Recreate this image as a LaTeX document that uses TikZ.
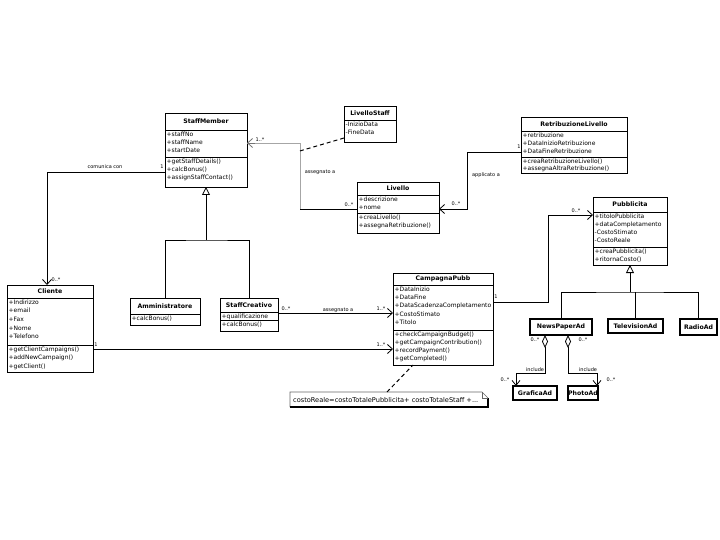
\documentclass[tikz,border=0pt]{standalone}
\usepackage{fontspec}
\setmainfont{DejaVu Sans}
\usetikzlibrary{arrows.meta,calc}
\tikzset{
  clsbox/.style={draw, line width=0.9pt, inner sep=0pt, outer sep=0pt, fill=white},
  boldbox/.style={clsbox, line width=1.2pt},
  clstitle/.style={font=\bfseries\fontsize{6.2}{7}\selectfont, inner sep=0pt},
  members/.style={font=\fontsize{6}{8}\selectfont, align=left, anchor=north west, inner sep=0pt},
  sepline/.style={line width=0.9pt},
  conn/.style={line width=0.9pt},
  greyconn/.style={line width=0.8pt, draw=black!35},
  lbl/.style={font=\fontsize{5}{6}\selectfont, inner sep=0pt},
  barb/.style={-{Straight Barb[length=5pt,width=9pt,line width=0.8pt]}},
  gen/.style={-{Triangle[open,length=8pt,width=8pt,line width=0.8pt]}},
  aggr/.style={{Diamond[open,length=13pt,width=6pt,line width=0.8pt]}-{Straight Barb[length=5pt,width=8pt,line width=0.8pt]}},
  dashconn/.style={line width=1pt, dash pattern=on 4pt off 3pt},
  notebox/.style={inner sep=0pt, outer sep=0pt, minimum width=198pt, minimum height=15pt}
}
% [style] name, x, y, w, h-title, h-attrs, h-methods
\newcommand{\umlbox}[8][clsbox]{%
  \node[#1, minimum width=#5pt, minimum height=#6pt+#7pt+#8pt, anchor=north west] (#2) at (#3,#4) {};
  \coordinate (#2-t) at (#3+#5/2,#4+#6/2);
  \coordinate (#2-a) at (#3+1.5,#4+#6+1.5);
  \coordinate (#2-m) at (#3+1.5,#4+#6+#7+1.5);
  \ifnum#7>0 \draw[sepline] (#3,#4+#6) -- ++(#5,0);\fi
  \ifnum#8>0 \draw[sepline] (#3,#4+#6+#7) -- ++(#5,0);\fi
}
\begin{document}
\begin{tikzpicture}[x=1pt,y=-1pt]
\useasboundingbox (0,0) rectangle (720,540);

% ---------- classes ----------
\umlbox{sm}{165}{113}{82}{17}{27}{30}
\node[clstitle] at (sm-t) {StaffMember};
\node[members] at (sm-a) {+staffNo\\+staffName\\+startDate};
\node[members] at (sm-m) {+getStaffDetails()\\+calcBonus()\\+assignStaffContact()};

\umlbox{ls}{344}{106}{52}{14}{22}{0}
\node[clstitle] at (ls-t) {LivelloStaff};
\node[members] at (ls-a) {-InizioData\\-FineData};

\umlbox{rl}{521}{117}{106}{14}{26}{16}
\node[clstitle] at (rl-t) {RetribuzioneLivello};
\node[members] at (rl-a) {+retribuzione\\+DataInizioRetribuzione\\+DataFineRetribuzione};
\node[members, font=\fontsize{6}{7.5}\selectfont] at (rl-m) {+creaRetribuzioneLivello()\\+assegnaAltraRetribuzione()};

\umlbox{lv}{357}{182}{82}{13}{18}{20}
\node[clstitle] at (lv-t) {Livello};
\node[members] at (lv-a) {+descrizione\\+nome};
\node[members] at (lv-m) {+creaLivello()\\+assegnaRetribuzione()};

\umlbox{pb}{593}{197}{74}{15}{35}{18}
\node[clstitle] at (pb-t) {Pubblicita};
\node[members] at (pb-a) {+titoloPubblicita\\+dataCompletamento\\-CostoStimato\\-CostoReale};
\node[members] at (pb-m) {+creaPubblicita()\\+ritornaCosto()};

\umlbox{cl}{7}{285}{86}{13}{47}{27}
\node[clstitle] at (cl-t) {Cliente};
\node[members, font=\fontsize{6}{8.6}\selectfont] at (cl-a) {+Indirizzo\\+email\\+Fax\\+Nome\\+Telefono};
\node[members, font=\fontsize{6}{8.4}\selectfont] at (cl-m) {+getClientCampaigns()\\+addNewCampaign()\\+getClient()};

\umlbox{am}{130}{298}{70}{16}{0}{11}
\node[clstitle] at (am-t) {Amministratore};
\node[members] at (am-m) {+calcBonus()};

\umlbox{sc}{220}{298}{58}{14}{8}{11}
\node[clstitle] at (sc-t) {StaffCreativo};
\node[members] at (sc-a) {+qualificazione};
\node[members] at (sc-m) {+calcBonus()};

\umlbox{cp}{393}{273}{100}{12}{45}{35}
\node[clstitle] at (cp-t) {CampagnaPubb};
\node[members, font=\fontsize{6}{8.3}\selectfont] at (cp-a) {+DataInizio\\+DataFine\\+DataScadenzaCompletamento\\+CostoStimato\\+Titolo};
\node[members, font=\fontsize{6}{8.2}\selectfont] at (cp-m) {+checkCampaignBudget()\\+getCampaignContribution()\\+recordPayment()\\+getCompleted()};

\umlbox[boldbox]{np}{530}{319}{62}{16}{0}{0}
\node[clstitle] at (np-t) {NewsPaperAd};
\umlbox[boldbox]{tv}{608}{319}{55}{14}{0}{0}
\node[clstitle] at (tv-t) {TelevisionAd};
\umlbox[boldbox]{ra}{680}{319}{37}{16}{0}{0}
\node[clstitle] at (ra-t) {RadioAd};
\umlbox[boldbox]{ga}{513}{386}{44}{14}{0}{0}
\node[clstitle] at (ga-t) {GraficaAd};
\umlbox[boldbox]{ph}{568}{386}{30}{14}{0}{0}
\node[clstitle] at (ph-t) {PhotoAd};

% ---------- note ----------
\node[notebox, anchor=north west] (nt) at (290,392) {};
\node[font=\fontsize{6.6}{7}\selectfont, inner sep=0pt, anchor=west] at ($(nt.west)+(3,1)$) {costoReale=costoTotalePubblicita+ costoTotaleStaff +...};
\draw[line width=0.6pt, draw=black!60] (nt.south west) -- (nt.north west) -- ($(nt.north east)+(-6,0)$) -- ($(nt.north east)+(0,6)$);
\draw[line width=1.3pt] ($(nt.north east)+(0,6)$) -- (nt.south east) -- (nt.south west);
\draw[line width=0.5pt, draw=black!60] ($(nt.north east)+(-6,0)$) -- ($(nt.north east)+(-6,6)$) -- ($(nt.north east)+(0,6)$);
\draw[dashconn] ($(nt.north west)+(97,0)$) -- ($(cp.south west)+(20,0)$);

% ---------- comunica con ----------
\draw[conn,barb] ($(sm.north west)+(0,59)$) -| ($(cl.north west)+(40,0)$);
\node[lbl] at (105,167) {comunica con};
\node[lbl] at (162,167) {1};
\node[lbl] at (56,280) {0..*};

% ---------- assegnato a (Livello - StaffMember) ----------
\coordinate (b1) at (300,209);
\coordinate (b2) at (300,143);
\draw[conn] ($(lv.north west)+(0,27)$) -- (b1);
\draw[greyconn] (b1) -- (b2) -- (sm.east |- b2);
\draw[conn,barb,draw=black!55] ($(sm.east |- b2)+(8,0)$) -- (sm.east |- b2);
\draw[dashconn] ($(ls.south west)+(0,-4)$) -- ($(b1)!0.88!(b2)$);
\node[lbl] at (320,172) {assegnato a};
\node[lbl] at (260,140) {1..*};
\node[lbl] at (349,205) {0..*};

% ---------- applicato a ----------
\coordinate (b3) at (467,152);
\coordinate (b4) at (467,209);
\draw[conn,barb] ($(rl.north west)+(0,35)$) -- (b3) -- (b4) -- (lv.east |- b4);
\node[lbl] at (519,147) {1};
\node[lbl] at (456,204) {0..*};
\node[lbl] at (486,175) {applicato a};

% ---------- assegnato a (StaffCreativo - CampagnaPubb) ----------
\draw[conn,barb] ($(sc.north east)+(0,15)$) -- ($(cp.north west)+(0,40)$);
\node[lbl] at (286,309) {0..*};
\node[lbl] at (338,310) {assegnato a};
\node[lbl] at (381,309) {1..*};

% ---------- Cliente - CampagnaPubb ----------
\draw[conn,barb] ($(cl.north east)+(0,64)$) -- ($(cp.north west)+(0,76)$);
\node[lbl] at (96,345) {1};
\node[lbl] at (381,345) {1..*};

% ---------- CampagnaPubb - Pubblicita ----------
\coordinate (b5) at (548,302);
\coordinate (b6) at (548,215);
\draw[conn,barb] ($(cp.north east)+(0,29)$) -- (b5) -- (b6) -- (pb.west |- b6);
\node[lbl] at (496,297) {1};
\node[lbl] at (576,211) {0..*};

% ---------- generalization StaffMember ----------
\coordinate (g1) at (206,240);
\draw[conn] (am.north) |- (g1) -| (sc.north);
\draw[conn,gen] (g1) -- (sm.south);

% ---------- generalization Pubblicita ----------
\coordinate (g2) at (630,292);
\draw[conn] (np.north) |- (g2) -| (ra.north);
\draw[conn] (tv.north) -- (tv.north |- g2);
\draw[conn,gen] (g2) -- (pb.south);

% ---------- aggregations ----------
\draw[conn,aggr] ($(np.south west)+(15,0)$) -- ($(np.south west)+(15,38)$) -| ($(ga.north west)+(3,0)$);
\draw[conn,aggr] ($(np.south west)+(38,0)$) -- ($(np.south west)+(38,38)$) -| ($(ph.north east)+(-1,0)$);
\node[lbl] at (535,340) {0..*};
\node[lbl] at (535,370) {include};
\node[lbl] at (505,380) {0..*};
\node[lbl] at (583,340) {0..*};
\node[lbl] at (588,370) {include};
\node[lbl] at (611,380) {0..*};
\end{tikzpicture}
\end{document}
